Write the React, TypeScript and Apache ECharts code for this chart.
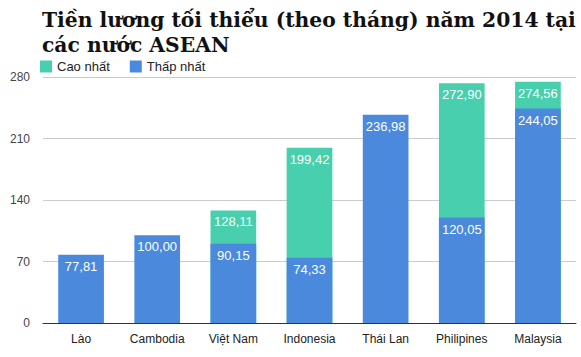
import React, { useEffect, useRef } from "react";
import * as echarts from "echarts";

const categories = ["Lào", "Cambodia", "Việt Nam", "Indonesia", "Thái Lan", "Philipines", "Malaysia"];
const highest: (number | null)[] = [null, null, 128.11, 199.42, null, 272.9, 274.56];
const lowest: (number | null)[] = [77.81, 100.0, 90.15, 74.33, 236.98, 120.05, 244.05];
const yTicks = [0, 70, 140, 210, 280];

const fmt = (p: any) => (p.value == null ? "" : Number(p.value).toFixed(2).replace(".", ","));

export default function App() {
  const ref = useRef<HTMLDivElement>(null);
  useEffect(() => {
    const chart = echarts.init(ref.current!, null, { renderer: "svg" });
    const labelStyle = {
      show: true,
      position: "insideTop" as const,
      distance: 5,
      color: "#fff",
      fontSize: 13,
      fontFamily: "Liberation Sans, Arial, sans-serif",
      formatter: fmt,
    };
    chart.setOption({
      animation: false,
      title: {
        text: "Tiền lương tối thiểu (theo tháng) năm 2014 tại\ncác nước ASEAN",
        left: 37,
        top: 2,
        textStyle: {
          fontFamily: "DejaVu Serif",
          fontWeight: "bold",
          fontSize: 20.3,
          lineHeight: 25,
          color: "#111",
        },
      },
      legend: {
        left: 35,
        top: 55,
        icon: "rect",
        itemWidth: 12,
        itemHeight: 12,
        itemGap: 20,
        textStyle: { fontSize: 13, color: "#222", fontFamily: "Liberation Sans, Arial, sans-serif" },
        data: ["Cao nhất", "Thấp nhất"],
      },
      grid: { left: 43, right: 5, top: 77, bottom: 34 },
      xAxis: {
        type: "category",
        data: categories,
        axisLine: { lineStyle: { color: "#333", width: 1 } },
        axisTick: { show: false },
        axisLabel: { interval: 0, color: "#222", fontSize: 12, margin: 10, fontFamily: "Liberation Sans, Arial, sans-serif" },
      },
      yAxis: {
        type: "value",
        min: yTicks[0],
        max: yTicks[yTicks.length - 1],
        interval: 70,
        axisLine: { show: false },
        axisTick: { show: false },
        axisLabel: { color: "#444", fontSize: 12, margin: 13, fontFamily: "Liberation Sans, Arial, sans-serif" },
        splitLine: { lineStyle: { color: "#ccc", width: 1 } },
      },
      series: [
        {
          name: "Cao nhất",
          type: "bar",
          data: highest,
          barWidth: "60%",
          barGap: "-100%",
          itemStyle: { color: "#48CFAD" },
          label: labelStyle,
        },
        {
          name: "Thấp nhất",
          type: "bar",
          data: lowest,
          barWidth: "60%",
          barGap: "-100%",
          itemStyle: { color: "#4A89DC" },
          label: labelStyle,
        },
      ],
    });
    return () => chart.dispose();
  }, []);
  return <div ref={ref} style={{ width: 581, height: 357, position: "absolute", left: 0, top: 0 }} />;
}
